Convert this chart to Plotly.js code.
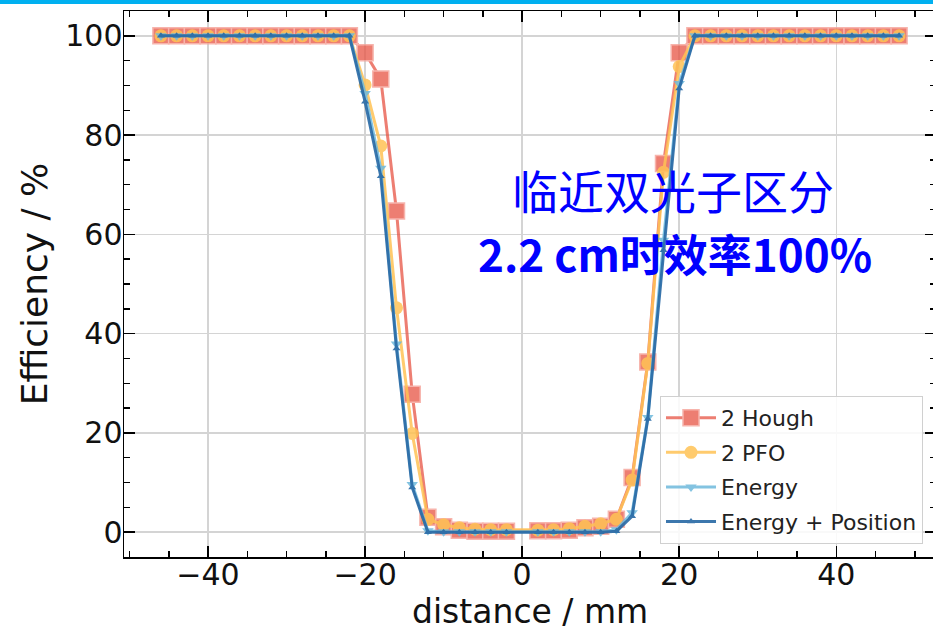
<!DOCTYPE html>
<html>
<head>
<meta charset="utf-8">
<script src="https://cdn.plot.ly/plotly-3.0.1.min.js"></script>
<style>
html, body { margin:0; padding:0; width:933px; height:632px; overflow:hidden; background:#fff; }
#topbar { position:absolute; left:0; top:0; width:933px; height:4px; background:#00B0F0; z-index:10; }
#chart { position:absolute; left:0; top:0; width:940px; height:632px; }
</style>
</head>
<body>
<div id="topbar"></div>
<div id="chart"></div>
<script>
// distance / mm
const distance = [-46,-44,-42,-40,-38,-36,-34,-32,-30,-28,-26,-24,-22,-20,-18,-16,-14,-12,-10,-8,-6,-4,-2,
                  2,4,6,8,10,12,14,16,18,20,22,24,26,28,30,32,34,36,38,40,42,44,46,48];
// Efficiency / %
const hough2 = [100,100,100,100,100,100,100,100,100,100,100,100,100,96.6,91.3,64.7,27.8,3.0,1.1,0.4,0.2,0.2,0.2,
                0.3,0.3,0.4,0.9,1.2,2.6,11.0,34.3,74.3,96.6,100,100,100,100,100,100,100,100,100,100,100,100,100,100];
const pfo2   = [100,100,100,100,100,100,100,100,100,100,100,100,100,90.1,77.8,45.2,19.9,2.6,1.5,0.9,0.6,0.5,0.5,
                0.4,0.5,0.7,1.2,1.7,2.6,10.5,34.0,72.5,93.8,100,100,100,100,100,100,100,100,100,100,100,100,100,100];
const energy = [100,100,100,100,100,100,100,100,100,100,100,100,100,88.4,73.3,37.9,9.6,0.3,0.1,0.1,0.1,0.1,0.1,
                0.1,0.1,0.1,0.1,0.1,0.5,3.9,23.1,58.8,90.4,100,100,100,100,100,100,100,100,100,100,100,100,100,100];
const energyPos = [100,100,100,100,100,100,100,100,100,100,100,100,100,86.7,71.7,37.0,9.0,0,0,0,0,0,0,
                0,0,0,0,0,0.2,3.2,22.8,56.8,89.4,100,100,100,100,100,100,100,100,100,100,100,100,100,100];
const seriesNames = ['2 Hough','2 PFO','Energy','Energy + Position'];
const xTicks = [-40,-20,0,20,40];
const yTicks = [0,20,40,60,80,100];
const xTitle = 'distance / mm';
const yTitle = 'Efficiency / %';
const note1 = '临近双光子区分';
const note2 = '2.2 cm时效率100%';

const traces = [
  {x:distance, y:hough2, name:seriesNames[0], mode:'lines+markers', legendgroup:'a',
   line:{color:'rgb(232,90,75)', width:3}, opacity:0.78,
   marker:{symbol:'square', size:16, color:'rgb(232,90,75)', line:{color:'rgba(245,160,150,1)', width:1.5}}},
  {x:distance, y:pfo2, name:seriesNames[1], mode:'lines+markers', legendgroup:'b',
   line:{color:'rgb(255,195,85)', width:3}, opacity:0.85,
   marker:{symbol:'circle', size:13, color:'rgb(255,195,85)'}},
  {x:distance, y:energy, name:seriesNames[2], mode:'lines+markers', legendgroup:'c',
   line:{color:'rgb(110,185,220)', width:3}, opacity:0.85,
   marker:{symbol:'triangle-down', size:10, color:'rgb(110,185,220)'}},
  {x:distance, y:energyPos, name:seriesNames[3], mode:'lines+markers', legendgroup:'d',
   line:{color:'rgb(40,105,165)', width:3}, opacity:0.9,
   marker:{symbol:'triangle-up', size:7, color:'rgb(40,105,165)'}}
];

const axFont = {family:'DejaVu Sans', size:30, color:'#111'};
const layout = {
  width:940, height:632,
  margin:{l:124, r:4, t:11, b:75},
  paper_bgcolor:'#fff', plot_bgcolor:'#fff',
  showlegend:true,
  legend:{x:0.984, y:0.024, xanchor:'right', yanchor:'bottom',
          bgcolor:'rgba(255,255,255,0.85)', bordercolor:'#d0d0d0', borderwidth:1,
          font:{family:'DejaVu Sans', size:22, color:'#222'}, tracegroupgap:3, itemwidth:50},
  xaxis:{range:[-50.7,52.7], tickvals:xTicks, ticks:'inside', ticklen:11, tickwidth:1.5, tickcolor:'#000',
         showline:true, linecolor:'#000', linewidth:1.5, mirror:'allticks',
         showgrid:true, gridcolor:'#d4d4d4', gridwidth:1.5, zeroline:false, ticklabelstandoff:-10,
         minor:{dtick:5, tick0:0, ticks:'inside', ticklen:6, tickwidth:1.5, tickcolor:'#000', showgrid:false},
         tickfont:axFont},
  yaxis:{range:[-5,105], tickvals:yTicks, ticks:'inside', ticklen:11, tickwidth:1.5, tickcolor:'#000',
         showline:true, linecolor:'#000', linewidth:1.5, mirror:'allticks',
         showgrid:true, gridcolor:'#d4d4d4', gridwidth:1.5, zeroline:false, ticklabelstandoff:-6,
         minor:{dtick:5, tick0:0, ticks:'inside', ticklen:6, tickwidth:1.5, tickcolor:'#000', showgrid:false},
         tickfont:axFont,
         title:{text:yTitle, font:{family:'DejaVu Sans', size:36, color:'#111'}, standoff:6}},
  annotations:[
    {x:0.5, y:-0.1, xref:'paper', yref:'paper', text:xTitle, showarrow:false, xanchor:'center', yanchor:'middle',
     font:{family:'DejaVu Sans', size:33, color:'#111'}},
    {x:19.2, y:69.2, xref:'x', yref:'y', text:note1, showarrow:false, xanchor:'center', yanchor:'middle',
     font:{family:'Noto Sans CJK SC', size:46, color:'#0000ff'}},
    {x:19.5, y:56.2, xref:'x', yref:'y', text:'<b>'+note2+'</b>', showarrow:false, xanchor:'center', yanchor:'middle',
     font:{family:'Noto Sans CJK SC', size:44, color:'#0000ff'}}
  ]
};
Plotly.newPlot('chart', traces, layout, {displayModeBar:false, staticPlot:true});
</script>
</body>
</html>
